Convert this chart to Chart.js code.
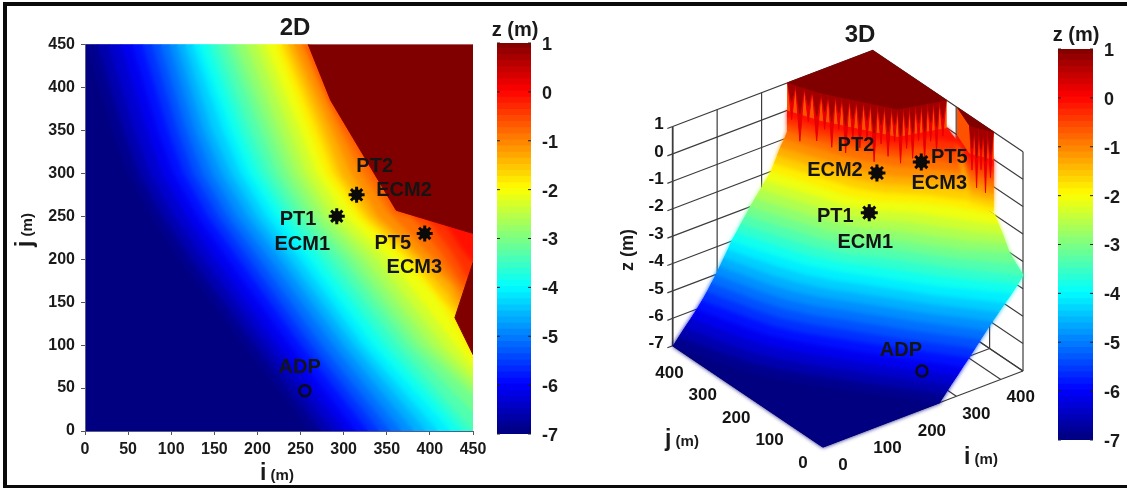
<!DOCTYPE html>
<html>
<head>
<meta charset="utf-8">
<script src="https://cdn.jsdelivr.net/npm/chart.js@4"></script>
<style>
  html, body { margin: 0; background: #fff; }
  body { width: 1127px; height: 488px; position: relative; overflow: hidden; font-family: "Liberation Sans", Arial, sans-serif; color: #1a1a1a; }
  canvas { position: absolute; left: 0; top: 0; }
  #map2dBlur { filter: blur(2.5px); clip-path: inset(44.5px 654px 57px 85px); }
  #surf3dBlur { filter: blur(2.2px); }
  #frame { position: absolute; left: 3px; top: 2px; right: -10px; bottom: 0; border: solid #0a0a0a; border-width: 4px 0 3px 4px; box-sizing: border-box; }
  .lab { position: absolute; font-weight: bold; white-space: nowrap; transform: translate(-50%, -50%); }
  .rot { transform: translate(-50%, -50%) rotate(-90deg); }
  .big { font-size: 23px; }
  .small { font-size: 15px; }
</style>
</head>
<body>
<canvas id="map2dBase" width="1127" height="488"></canvas>
<canvas id="map2dBlur" width="1127" height="488"></canvas>
<canvas id="map2d" width="1127" height="488"></canvas>
<canvas id="bar2d" width="1127" height="488"></canvas>
<canvas id="box3d" width="1127" height="488"></canvas>
<canvas id="surf3dBase" width="1127" height="488"></canvas>
<canvas id="surf3dBlur" width="1127" height="488"></canvas>
<canvas id="surf3d" width="1127" height="488"></canvas>
<canvas id="bar3d" width="1127" height="488"></canvas>
<div id="frame"></div>
<div class="lab" style="left:295px;top:27px;font-size:24px">2D</div>
<div class="lab" style="left:515px;top:29px;font-size:20px">z (m)</div>
<div class="lab" style="left:860px;top:34px;font-size:24px">3D</div>
<div class="lab" style="left:1076px;top:34px;font-size:20px">z (m)</div>
<div class="lab" style="left:277px;top:472px"><span class="big">i</span><span class="small"> (m)</span></div>
<div class="lab rot" style="left:24px;top:230px"><span class="big">j</span><span class="small"> (m)</span></div>
<div class="lab" style="left:682px;top:438px"><span class="big">j</span><span class="small"> (m)</span></div>
<div class="lab" style="left:981px;top:456px"><span class="big">i</span><span class="small"> (m)</span></div>
<div class="lab rot" style="left:627px;top:250px;font-size:18px">z (m)</div>
<script>
// z level of each contour
const levels = [-7, -6.75, -6.5, -6.25, -6, -5.75, -5.5, -5.25, -5, -4.75, -4.5, -4.25, -4,
  -3.75, -3.5, -3.25, -3, -2.75, -2.5, -2.25, -2, -1.75, -1.5, -1.25, -1, -0.75, -0.5, -0.25, 0];

// contour lines as [i, j] pairs, one list per level
const contours = [
  [[2,450],[32,350],[50,300],[78,250],[110,200],[185,100],[262,0]],
  [[15,450],[45,350],[63,300],[91,250],[124,200],[198,100],[275,0]],
  [[28,450],[58,350],[76,300],[104,250],[138,200],[211,100],[288,0]],
  [[42,450],[72,350],[90,300],[118,250],[152,200],[224,100],[302,0]],
  [[55,450],[85,350],[103,300],[131,250],[166,200],[238,100],[315,0]],
  [[67,450],[97,350],[115,300],[143,250],[179,200],[251,100],[329,0]],
  [[78,450],[108,350],[126,300],[155,250],[191,200],[263,100],[342,0]],
  [[88,450],[118,350],[137,300],[166,250],[203,200],[275,100],[355,0]],
  [[98,450],[128,350],[148,300],[177,250],[215,200],[288,100],[368,0]],
  [[107,450],[138,350],[159,300],[189,250],[227,200],[300,100],[382,0]],
  [[116,450],[148,350],[170,300],[200,250],[238,200],[312,100],[396,0]],
  [[125,450],[160,350],[181,300],[211,250],[250,200],[323,100],[410,0]],
  [[133,450],[170,350],[191,300],[222,250],[261,200],[335,100],[425,0]],
  [[144,450],[181,350],[202,300],[233,250],[274,200],[349,100],[438,0]],
  [[154,450],[192,350],[213,300],[243,250],[287,200],[363,100],[450,0]],
  [[165,450],[204,350],[224,300],[254,250],[300,200],[376,100],[450,22]],
  [[175,450],[215,350],[235,300],[265,250],[312,200],[388,100],[450,42]],
  [[187,450],[226,350],[246,300],[277,250],[325,200],[401,100],[450,52]],
  [[199,450],[238,350],[257,300],[288,250],[339,200],[415,100],[450,62]],
  [[210,450],[250,350],[269,300],[302,250],[354,200],[430,100],[450,74]],
  [[222,450],[261,350],[280,300],[315,250],[369,200],[408,155],[426,128],[450,85]],
  [[229,450],[270,350],[289,300],[323,250],[378,200],[416,152],[430,136]],
  [[236,450],[278,350],[297,300],[331,250],[386,200],[421,160],[432,142]],
  [[243,450],[287,350],[309,300],[340,250],[394,200],[425,170],[435,150]],
  [[252,450],[296,350],[322,300],[352,255],[402,205],[430,172],[438,160]],
  [[259,450],[285,385],[335,300],[361,257],[378,252],[412,210],[440,168]],
  [[259,450],[285,385],[361,257],[398,246],[425,210],[444,178]],
  [[259,450],[285,385],[361,257],[420,239],[435,215],[450,196]],
  [[259,450],[285,385],[361,257],[445,231],[450,229]]
];

// flat top at z = 1 and the small wedge on the right edge
const plateau = [[259,450],[285,385],[361,257],[450,230],[450,450]];
const wedge = [[450,196],[429,132],[450,89]];
const wedgeFoot = [-0.3, -1.9, -1.9];
const wedgeLevels = [-1.9, -1.75, -1.5, -1.25, -1, -0.75, -0.5, -0.25, 0];

// points along the steep wall under the plateau, with how far each spike hangs
const wallPoints = [[259,450],[265,435],[272,418],[278,402],[285,385],[292,373],[299,361],[306,350],[313,338],[320,326],[327,314],[334,302],[341,290],[348,279],[355,267],[361,257],[372,254],[383,250],[394,247],[405,244],[416,240],[427,237],[438,234],[450,230]];
const wallTips = [-0.3,-1,-0.2,-0.8,-0.3,-0.9,-0.2,-1,-0.4,-0.7,-0.3,-1.1,-0.4,-0.8,-0.2,-1,-0.5,-0.9,-0.3,-1,-0.4,-0.8,-0.3];
const wedgePoints = [[429,132],[433,123],[437,115],[441,107],[445,99],[450,89]];
const wedgeTips = [-0.6,-1.2,-0.5,-1.3,-0.7];

// instruments in order PT2, PT1, PT5, ADP
const markerI = [315, 292, 394, 255];
const markerJ = [275, 250, 230, 47];
// where the same instruments sit in the 3D panel
const marker3dI = [328, 292, 394, 258];
const marker3dZ = [-1.28, -2.3, -0.92, -6.2];

const ticks2d = [0, 50, 100, 150, 200, 250, 300, 350, 400, 450];
const ticksIJ = [0, 100, 200, 300, 400];
const ticksZ = [1, 0, -1, -2, -3, -4, -5, -6, -7];

const PAGE_W = 1127, PAGE_H = 488;
const FAMILY = '"Liberation Sans", Arial, sans-serif';
const LABEL_FONT = 'bold 20px ' + FAMILY;
const TICK_FONT = 'bold 17px ' + FAMILY;

function jet(z) {
  const t = (z + 7) / 8;
  const c = v => Math.round(255 * Math.min(1, Math.max(0, v)));
  return `rgb(${c(1.5 - Math.abs(4 * t - 3))},${c(1.5 - Math.abs(4 * t - 2))},${c(1.5 - Math.abs(4 * t - 1))})`;
}

// view of the 3D panel, read from its box corners
function project(i, j, z) {
  return {
    x: 823 + i * 200 / 450 - j * 150.3 / 450,
    y: 447 - i * 76 / 450 - j * 101.3 / 450 - (z + 7) * 27.4
  };
}

function polygon(points, color) {
  return {
    data: points.concat([points[0]]),
    showLine: true, fill: 'shape', tension: 0,
    borderColor: color, backgroundColor: color, borderWidth: 1, pointRadius: 0
  };
}

function line(points, color, width) {
  return { data: points, showLine: true, fill: false, tension: 0, borderColor: color, borderWidth: width, pointRadius: 0 };
}

function withZ(path, z) {
  return path.map((p, k) => [p[0], p[1], Array.isArray(z) ? z[k] : z]);
}

// band between every two neighbouring contours
function bands(paths, zs) {
  const out = [];
  for (let k = 0; k + 1 < paths.length; k++) {
    out.push({ ring: withZ(paths[k], zs[k]).concat(withZ(paths[k + 1], zs[k + 1]).reverse()), color: jet((zs[k] + zs[k + 1]) / 2) });
  }
  return out;
}

const leftEdge = [[0,450],[0,0]];
const mainBands = [{ ring: withZ(leftEdge, -7).concat(withZ(contours[0], -7).reverse()), color: jet(-7) }]
  .concat(bands(contours, levels));
const topPath = plateau.slice(0, 4);
const toIJ = p => ({ x: p[0], y: p[1] });
const toXY = p => project(p[0], p[1], p[2]);

const markerSets = (xs, ys, size) => [
  { data: xs.slice(0, 3).map((x, k) => ({ x, y: ys[k] })), pointStyle: 'star', pointRadius: size + 1.5, borderColor: '#0a0a0a', borderWidth: 3, showLine: false },
  { data: xs.slice(0, 3).map((x, k) => ({ x, y: ys[k] })), pointStyle: 'circle', pointRadius: size - 1.5, backgroundColor: '#0a0a0a', borderColor: '#0a0a0a', showLine: false },
  { data: [{ x: xs[3], y: ys[3] }], pointStyle: 'circle', pointRadius: 5.5, backgroundColor: 'rgba(0,0,0,0)', borderColor: '#0a0a1a', borderWidth: 2.5, showLine: false }
];

const labelPlugin = items => ({
  id: 'labels',
  afterDatasetsDraw(chart) {
    const ctx = chart.ctx;
    ctx.save();
    ctx.textBaseline = 'middle';
    items.forEach(it => {
      ctx.font = it.font;
      ctx.fillStyle = '#141414';
      ctx.textAlign = it.align || 'center';
      ctx.fillText(it.text, chart.scales.x.getPixelForValue(it.x), chart.scales.y.getPixelForValue(it.y));
    });
    ctx.restore();
  }
});

const basePlugins = { legend: { display: false }, tooltip: { enabled: false } };

/* ---------- 2D panel ---------- */
const labels2d = [
  ['PT2', 336, 308], ['ECM2', 370, 280], ['PT1', 247, 246], ['ECM1', 252, 217],
  ['PT5', 357, 218], ['ECM3', 382, 190], ['ADP', 249, 74]
].map(a => ({ text: a[0], x: a[1], y: a[2], font: LABEL_FONT }));

function axis2d(visible, extra) {
  return Object.assign({
    type: 'linear', min: 0, max: 450,
    afterBuildTicks(s) { s.ticks = ticks2d.map(value => ({ value })); },
    border: { display: visible, color: '#5a5a8a' },
    grid: { display: visible, drawOnChartArea: false, tickLength: 4, color: '#555' },
    ticks: { display: visible, color: '#1a1a1a', font: { family: FAMILY, size: 16, weight: 'bold' }, autoSkip: false, maxRotation: 0, padding: extra.pad }
  }, extra.fit);
}

function chart2d(id, datasets, visible, plugins) {
  new Chart(document.getElementById(id), {
    type: 'scatter',
    data: { datasets: datasets.slice().reverse() },
    options: {
      responsive: false, animation: false,
      layout: { autoPadding: false, padding: { left: 0, top: 44.5, right: PAGE_W - 473, bottom: 0 } },
      plugins: basePlugins,
      scales: {
        x: axis2d(visible, { pad: 5, fit: { afterFit(s) { s.height = PAGE_H - 431; } } }),
        y: axis2d(visible, { pad: 6, fit: { afterFit(s) { s.width = 85; } } })
      }
    },
    plugins: plugins || []
  });
}

const bandSets2d = () => mainBands.map(b => polygon(b.ring.map(toIJ), b.color));
chart2d('map2dBase', bandSets2d(), false);
chart2d('map2dBlur', bandSets2d(), false);
chart2d('map2d', [polygon(plateau.map(toIJ), jet(1)), polygon(wedge.map(toIJ), jet(1))]
  .concat(markerSets(markerI, markerJ, 6.5)), true, [labelPlugin(labels2d)]);

/* ---------- colour bars ---------- */
function colorBar(id, left, right, top, bottom) {
  const sets = [];
  for (let k = 0; k < 64; k++) {
    const lo = -7 + k / 8;
    sets.push({ data: [[lo, lo + 0.145]], backgroundColor: jet(lo + 0.0625), barPercentage: 1, categoryPercentage: 1 });
  }
  new Chart(document.getElementById(id), {
    type: 'bar',
    data: { labels: ['z'], datasets: sets },
    options: {
      responsive: false, animation: false,
      layout: { autoPadding: false, padding: { left, top, right: PAGE_W - right - 30, bottom: PAGE_H - bottom } },
      plugins: basePlugins,
      scales: {
        x: { stacked: true, display: false },
        y: {
          position: 'right', min: -7, max: 1,
          afterFit(s) { s.width = 30; },
          afterBuildTicks(s) { s.ticks = ticksZ.map(value => ({ value })); },
          border: { display: false },
          grid: { display: false },
          ticks: { color: '#1a1a1a', padding: 3, labelOffset: 2, autoSkip: false, font: { family: FAMILY, size: 18, weight: 'bold' } }
        }
      }
    },
    plugins: [{
      id: 'barTicks',
      afterDatasetsDraw(chart) {
        const { ctx, chartArea: a, scales: { y } } = chart;
        ctx.save();
        ctx.strokeStyle = '#222';
        ctx.lineWidth = 1;
        ticksZ.forEach(v => {
          const py = y.getPixelForValue(v);
          ctx.beginPath();
          ctx.moveTo(a.left, py); ctx.lineTo(a.left + 3, py);
          ctx.moveTo(a.right - 3, py); ctx.lineTo(a.right, py);
          ctx.stroke();
        });
        ctx.restore();
      }
    }]
  });
}
colorBar('bar2d', 497, 531, 43, 434);
colorBar('bar3d', 1058, 1093, 49, 440);

/* ---------- 3D panel ---------- */
function chart3d(id, datasets, plugins) {
  new Chart(document.getElementById(id), {
    type: 'scatter',
    data: { datasets: datasets.slice().reverse() },
    options: {
      responsive: false, animation: false,
      layout: { autoPadding: false },
      plugins: basePlugins,
      scales: {
        x: { type: 'linear', min: 0, max: PAGE_W, display: false },
        y: { type: 'linear', min: 0, max: PAGE_H, reverse: true, display: false }
      }
    },
    plugins: plugins || []
  });
}

const BOX = '#3c3c3c';
const boxSets = [];
// walls and floor behind the surface
const wallPos = [0, 100, 200, 300, 400, 450];
ticksZ.forEach(z => {
  boxSets.push(line([[0,450,z],[450,450,z],[450,0,z]].map(toXY), BOX, 1.2));
  boxSets.push(line([[-12,450,z],[0,450,z]].map(toXY), BOX, 1.2));
});
wallPos.forEach(v => {
  boxSets.push(line([[v,450,-7],[v,450,1]].map(toXY), BOX, v === 0 ? 1.8 : 1.2));
  if (v < 450) boxSets.push(line([[450,v,-7],[450,v,1]].map(toXY), BOX, 1.2));
  boxSets.push(line([[v,0,-7],[v,450,-7]].map(toXY), BOX, 1.2));
  if (v < 450) boxSets.push(line([[0,v,-7],[450,v,-7]].map(toXY), BOX, 1.2));
});
chart3d('box3d', boxSets);

// wedge faces up to z = 0
const wedgeZ = wedgeLevels.map(L => wedgeFoot.map(f => Math.max(f, L)));
const wedgeRings = [];
for (let k = 0; k + 1 < wedgeLevels.length; k++) {
  wedgeRings.push({
    ring: withZ(wedge, wedgeZ[k]).concat(withZ(wedge, wedgeZ[k + 1]).reverse()),
    color: jet((wedgeLevels[k] + wedgeLevels[k + 1]) / 2)
  });
}
const surfaceSets = () => mainBands.concat(wedgeRings).map(b => polygon(b.ring.map(toXY), b.color));
chart3d('surf3dBase', surfaceSets());
chart3d('surf3dBlur', surfaceSets());

const WALL_RED = '#ff5200';
const topSets = [];
function spikes(points, tips) {
  tips.forEach((tip, k) => {
    const a = points[k], b = points[k + 1];
    const mid = [(a[0] + b[0]) / 2, (a[1] + b[1]) / 2];
    topSets.push(polygon([[a[0], a[1], 1], [b[0], b[1], 1], [mid[0], mid[1], tip]].map(toXY), '#e80000'));
    topSets.push(polygon([[a[0], a[1], 1], [b[0], b[1], 1], [mid[0], mid[1], (tip + 1) / 2]].map(toXY), '#a00000'));
  });
}
// wall from the last contour up to the plateau
const lastContour = contours[contours.length - 1];
topSets.push(polygon(withZ(lastContour, 0).concat(withZ(topPath, 1).reverse()).map(toXY), WALL_RED));
spikes(wallPoints, wallTips);
topSets.push(polygon(withZ(plateau, 1).map(toXY), jet(1)));
topSets.push(polygon(withZ(wedge, 0).concat(withZ(wedge, 1).reverse()).map(toXY), WALL_RED));
spikes(wedgePoints, wedgeTips);
topSets.push(polygon(withZ(wedge, 1).map(toXY), jet(1)));

const marks3d = marker3dI.map((m, k) => project(m, markerJ[k], marker3dZ[k]));
markerSets(marks3d.map(p => p.x), marks3d.map(p => p.y), 7).forEach(s => topSets.push(s));

const labels3d = [];
const offsets3d = [
  ['PT2', 0, -21, -27], ['ECM2', 0, -42, -2], ['PT1', 1, -34, 4], ['ECM1', 1, -4, 30],
  ['PT5', 2, 28, -5], ['ECM3', 2, 18, 21], ['ADP', 3, -21, -20]
];
offsets3d.forEach(o => labels3d.push({ text: o[0], x: marks3d[o[1]].x + o[2], y: marks3d[o[1]].y + o[3], font: LABEL_FONT }));
ticksZ.forEach(z => { const p = project(0, 450, z); labels3d.push({ text: String(z), x: p.x - 9, y: p.y - 2, font: TICK_FONT, align: 'right' }); });
ticksIJ.forEach(v => {
  const pi = project(v, 0, -7), pj = project(0, v, -7);
  labels3d.push({ text: String(v), x: pi.x + 20, y: pi.y + 18, font: TICK_FONT });
  labels3d.push({ text: String(v), x: pj.x - 20, y: pj.y + 16, font: TICK_FONT });
});
chart3d('surf3d', topSets, [labelPlugin(labels3d)]);
</script>
</body>
</html>
